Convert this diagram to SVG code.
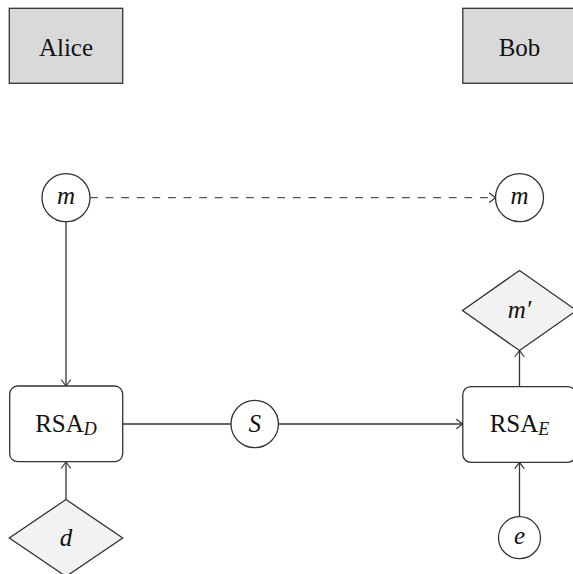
<svg xmlns="http://www.w3.org/2000/svg" width="573" height="574" viewBox="0 0 573 574">
<style>
.actor{fill:#d9d9d9;stroke:#333;stroke-width:1.3}
.box{fill:#fff;stroke:#333;stroke-width:1.3}
.circ{fill:#fff;stroke:#333;stroke-width:1.3}
.dia{fill:#f2f2f2;stroke:#333;stroke-width:1.3}
.t{font-size:25px;fill:#111;text-anchor:middle}
.i{font-style:italic}
.edge{fill:none;stroke:#333;stroke-width:1.3}
.dash{stroke-dasharray:7.8 7.8;stroke:#555}
</style>
<defs>
<marker id="to" viewBox="-8 -6 10 12" markerWidth="10" markerHeight="12" refX="0" refY="0" orient="auto" markerUnits="userSpaceOnUse">
<path d="M-6,-4.5 Q-1.5,-1.2 0,0 Q-1.5,1.2 -6,4.5" fill="none" stroke="#333" stroke-width="1.2" stroke-linecap="round"/>
</marker>
</defs>
<g id="connectors">
<line class="edge dash" x1="90" y1="197.7" x2="495.5" y2="197.7" marker-end="url(#to)"/>
<line class="edge" x1="66" y1="221.7" x2="66" y2="386" marker-end="url(#to)"/>
<line class="edge" x1="122.7" y1="424" x2="231" y2="424"/>
<line class="edge" x1="278.4" y1="424" x2="462.7" y2="424" marker-end="url(#to)"/>
<line class="edge" x1="66" y1="499.5" x2="66" y2="462" marker-end="url(#to)"/>
<line class="edge" x1="519.5" y1="516.7" x2="519.5" y2="462.3" marker-end="url(#to)"/>
<line class="edge" x1="519.5" y1="386.7" x2="519.5" y2="350.5" marker-end="url(#to)"/>
</g>
<g font-family="'Liberation Serif', 'DejaVu Serif', 'Times New Roman', serif">
<g id="alice">
<rect class="actor" x="9.3" y="8.3" width="113.4" height="75"/>
<text class="t" x="66" y="55.5">Alice</text>
</g>
<g id="bob">
<rect class="actor" x="462.8" y="8.3" width="113.4" height="75"/>
<text class="t" x="519.5" y="55.5">Bob</text>
</g>
<g id="m-alice">
<circle class="circ" cx="66" cy="197.7" r="24"/>
<text class="t i" x="66" y="204">m</text>
</g>
<g id="m-bob">
<circle class="circ" cx="519.5" cy="197.7" r="24"/>
<text class="t i" x="519.5" y="204">m</text>
</g>
<g id="m-prime">
<polygon class="dia" points="519.5,270.5 576.5,310.5 519.5,350.5 462.5,310.5"/>
<text class="t i" x="519.5" y="318">m′</text>
</g>
<g id="rsa-d">
<rect class="box" x="9.7" y="386" width="113" height="75.7" rx="8" ry="8"/>
<text class="t" x="66" y="432">RSA<tspan class="i" font-size="18" dy="3">D</tspan></text>
</g>
<g id="s">
<circle class="circ" cx="254.7" cy="424" r="23.7"/>
<text class="t i" x="254.7" y="432">S</text>
</g>
<g id="rsa-e">
<rect class="box" x="462.8" y="386.7" width="113" height="75.7" rx="8" ry="8"/>
<text class="t" x="519.5" y="432">RSA<tspan class="i" font-size="18" dy="3">E</tspan></text>
</g>
<g id="d">
<polygon class="dia" points="66,499.5 122.7,538 66,576.5 9.3,538"/>
<text class="t i" x="66" y="546">d</text>
</g>
<g id="e">
<circle class="circ" cx="519.5" cy="537.7" r="21"/>
<text class="t i" x="519.5" y="544">e</text>
</g>
</g>
</svg>
